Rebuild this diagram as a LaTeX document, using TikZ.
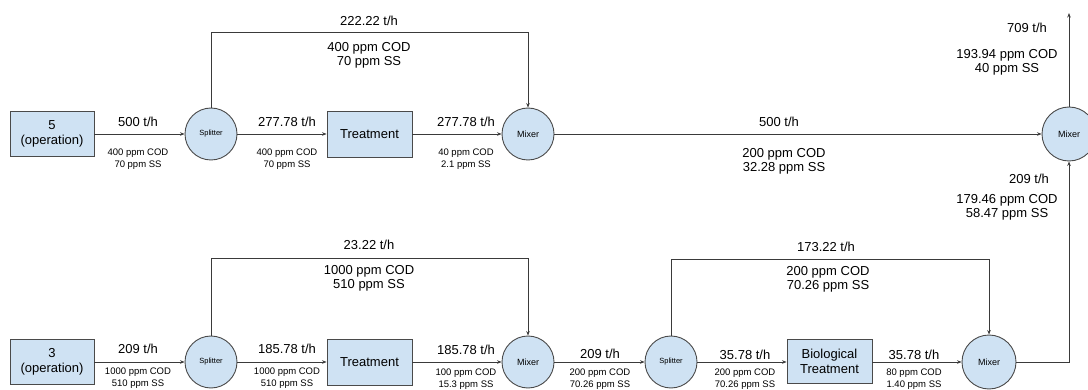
\documentclass[tikz,border=0pt]{standalone}
\usepackage{fontspec}
\setmainfont{Liberation Sans}
\usetikzlibrary{arrows.meta}
\definecolor{boxfill}{HTML}{CFE2F3}
\definecolor{boxline}{HTML}{4A4A4A}
\definecolor{flowline}{HTML}{3A3A3A}
\tikzset{
  unitbox/.style={draw=boxline, line width=0.9pt, fill=boxfill, minimum width=85pt, minimum height=46pt, inner sep=1pt, align=center, font=\fontsize{13}{15}\selectfont},
  unitcirc/.style={circle, draw=boxline, line width=0.9pt, fill=boxfill, minimum size=52pt, inner sep=0pt},
  spltext/.style={font=\fontsize{7.5}{9}\selectfont},
  mixtext/.style={font=\fontsize{9}{11}\selectfont},
  flow/.style={draw=flowline, line width=0.9pt, -{Stealth[length=4.5pt,width=3.5pt]}},
  plain/.style={draw=flowline, line width=0.9pt},
  big/.style={inner sep=0pt, align=center, font=\fontsize{13}{14}\selectfont},
  small/.style={inner sep=0pt, align=center, font=\fontsize{9.5}{11.5}\selectfont}
}
\begin{document}
\begin{tikzpicture}[x=1pt,y=-1pt]
\useasboundingbox (0,0) rectangle (1088,390);
% top row
\node[unitbox, minimum width=84pt, minimum height=45pt] (box5) at (52,134) {5\\(operation)};
\node[unitcirc, spltext] (spl1) at (211,134) {Splitter};
\node[unitbox] (tr1) at (369.5,134) {Treatment};
\node[unitcirc, mixtext] (mix1) at (528,134) {Mixer};
\node[unitcirc, mixtext, minimum size=54pt] (mixR) at (1069,134) {Mixer};
% bottom row
\node[unitbox, minimum width=84pt, minimum height=45pt] (box3) at (52,362) {3\\(operation)};
\node[unitcirc, spltext] (spl2) at (211,362) {Splitter};
\node[unitbox] (tr2) at (369.5,362) {Treatment};
\node[unitcirc, mixtext] (mix2) at (528,362) {Mixer};
\node[unitcirc, spltext] (spl3) at (671,362) {Splitter};
\node[unitbox, minimum height=44pt] (bio) at (829.5,361) {Biological\\Treatment};
\node[unitcirc, mixtext, minimum size=54pt] (mix3) at (989,362) {Mixer};
% connector points
\coordinate (b1a) at (211,32);
\coordinate (b2a) at (211,258);
\coordinate (b3a) at (671,259);
\coordinate (outp) at (1069,13);
\coordinate (c3) at (1069,362);
% connectors
\draw[flow] (box5.east) -- (spl1.west);
\draw[flow] (spl1.east) -- (tr1.west);
\draw[flow] (tr1.east) -- (mix1.west);
\draw[flow] (mix1.east) -- (mixR.west);
\draw[flow] (spl1.north) -- (b1a) -| (mix1.north);
\draw[flow] (mixR.north) -- (outp);
\draw[flow] (box3.east) -- (spl2.west);
\draw[flow] (spl2.east) -- (tr2.west);
\draw[flow] (tr2.east) -- (mix2.west);
\draw[flow] (mix2.east) -- (spl3.west);
\draw[flow] (spl3.east) -- (bio.west |- spl3.east);
\draw[flow] (bio.east |- mix3.west) -- (mix3.west);
\draw[flow] (spl2.north) -- (b2a) -| (mix2.north);
\draw[flow] (spl3.north) -- (b3a) -| (mix3.north);
\draw[flow] (mix3.east) -- (c3) -- (mixR.south);
% labels top row
\node[big] (l1) at (138,122) {500 t/h};
\node[small] (s1) at (138,159) {400 ppm COD\\70 ppm SS};
\node[big] (l2) at (287,122) {277.78 t/h};
\node[small] (s2) at (287,159) {400 ppm COD\\70 ppm SS};
\node[big] (l3) at (466,122) {277.78 t/h};
\node[small] (s3) at (466,159) {40 ppm COD\\2.1 ppm SS};
\node[big] (lb1) at (369,21) {222.22 t/h};
\node[big] (sb1) at (369,55) {400 ppm COD\\70 ppm SS};
\node[big] (lm) at (779,122) {500 t/h};
\node[big] (sm) at (784,161) {200 ppm COD\\32.28 ppm SS};
\node[big] (lo) at (1027,28) {709 t/h};
\node[big] (so) at (1007,62) {193.94 ppm COD\\40 ppm SS};
\node[big] (lr) at (1029,179) {209 t/h};
\node[big] (sr) at (1007,207) {179.46 ppm COD\\58.47 ppm SS};
% labels bottom row
\node[big] (l4) at (138,349) {209 t/h};
\node[small] (s4) at (138,378) {1000 ppm COD\\510 ppm SS};
\node[big] (l5) at (287,349) {185.78 t/h};
\node[small] (s5) at (287,378) {1000 ppm COD\\510 ppm SS};
\node[big] (l6) at (466,350) {185.78 t/h};
\node[small] (s6) at (466,379) {100 ppm COD\\15.3 ppm SS};
\node[big] (l7) at (600,354) {209 t/h};
\node[small] (s7) at (600,379) {200 ppm COD\\70.26 ppm SS};
\node[big] (l8) at (745,355) {35.78 t/h};
\node[small] (s8) at (745,379) {200 ppm COD\\70.26 ppm SS};
\node[big] (l9) at (914,355) {35.78 t/h};
\node[small] (s9) at (914,379) {80 ppm COD\\1.40 ppm SS};
\node[big] (lb2) at (369,245) {23.22 t/h};
\node[big] (sb2) at (369,278) {1000 ppm COD\\510 ppm SS};
\node[big] (lb3) at (826,247) {173.22 t/h};
\node[big] (sb3) at (828,279) {200 ppm COD\\70.26 ppm SS};
\end{tikzpicture}
\end{document}
